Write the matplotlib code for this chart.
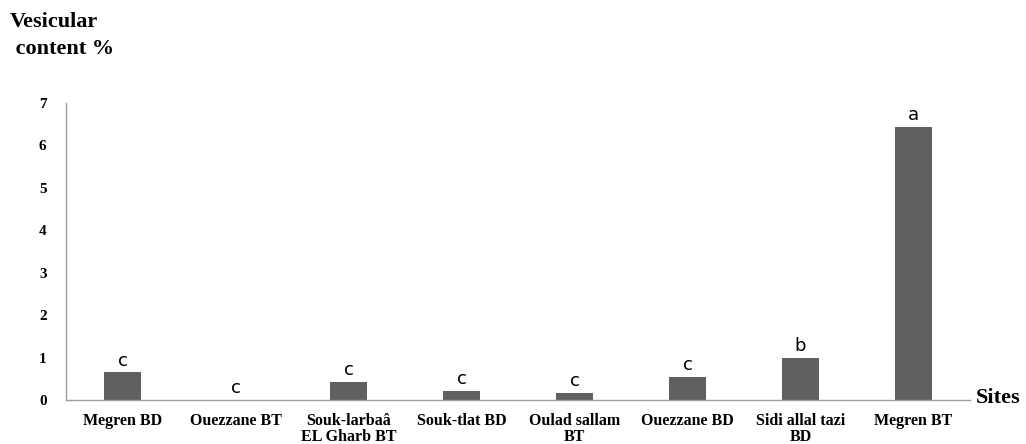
import matplotlib
matplotlib.use("Agg")
import matplotlib.pyplot as plt

sites = ["Megren BD", "Ouezzane BT", "Souk-larbaâ\nEL Gharb BT", "Souk-tlat BD",
         "Oulad sallam\nBT", "Ouezzane BD", "Sidi allal tazi\nBD", "Megren BT"]
values = [0.65, 0.0, 0.42, 0.21, 0.17, 0.54, 0.99, 6.43]
letters = ["c", "c", "c", "c", "c", "c", "b", "a"]
yticks = [0, 1, 2, 3, 4, 5, 6, 7]

fig = plt.figure(figsize=(10.26, 4.44), dpi=100)
ax = fig.add_axes([66/1026, 44/444, 904/1026, 297/444])
x = list(range(len(sites)))
ax.bar(x, values, width=0.32, color="#606060", zorder=2)
ax.set_xlim(-0.5, len(sites) - 0.5)
ax.set_ylim(0, 7)
ax.set_yticks(yticks)
ax.set_xticks(x)
ax.set_xticklabels(sites, fontfamily="Liberation Serif", fontweight="bold", fontsize=11.5,
                   linespacing=1.0)
ax.set_yticklabels([str(t) for t in yticks], fontfamily="Liberation Serif", fontweight="bold", fontsize=11)
ax.tick_params(axis="y", length=0, pad=14)
ax.tick_params(axis="x", length=0, pad=9.5)
for s in ["top", "right"]:
    ax.spines[s].set_visible(False)
for s in ["left", "bottom"]:
    ax.spines[s].set_color("#a0a0a0")
    ax.spines[s].set_linewidth(1.0)

for xi, v, l in zip(x, values, letters):
    ax.annotate(l, (xi, v), xytext=(0, 2), textcoords="offset points",
                ha="center", va="bottom", fontsize=13, fontfamily="DejaVu Sans", color="black")

fig.text(10/1026, 1 - 12/444, "Vesicular\n content %", ha="left", va="top",
         fontfamily="Liberation Serif", fontweight="bold", fontsize=16, linespacing=1.45)
fig.text(976/1026, 1 - 398/444, "Sites", ha="left", va="center",
         fontfamily="Liberation Serif", fontweight="bold", fontsize=16)

fig.savefig("out.png", dpi=100)
